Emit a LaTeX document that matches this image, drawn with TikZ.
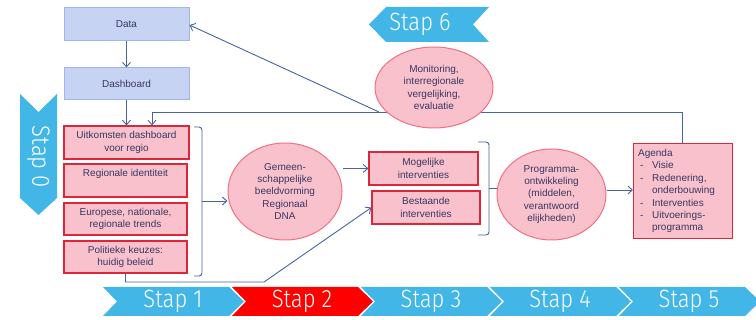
\documentclass[tikz,border=0pt]{standalone}
\usepackage{fontspec}
\setmainfont{Liberation Sans}
\newfontfamily\stapfont[FakeStretch=0.88]{Fira Sans Light}
\usetikzlibrary{arrows.meta,shapes.geometric}

\definecolor{txt}{RGB}{55,55,100}
\definecolor{bluefill}{RGB}{198,211,242}
\definecolor{blueline}{RGB}{160,182,232}
\definecolor{pinkfill}{RGB}{249,193,204}
\definecolor{redline}{RGB}{218,40,58}
\definecolor{ellline}{RGB}{240,112,130}
\definecolor{conn}{RGB}{72,100,160}
\definecolor{stapblue}{RGB}{66,182,230}
\definecolor{stapred}{RGB}{255,0,0}

\tikzset{
  every node/.style={text=txt, font=\fontsize{10}{12.4}\selectfont, inner sep=0pt, align=center},
  bluebox/.style={rectangle, draw=blueline, fill=bluefill, line width=1pt},
  pinkbox/.style={rectangle, draw=redline, fill=pinkfill, line width=1.2pt},
  pinkoval/.style={ellipse, draw=ellline, fill=pinkfill, line width=1pt},
  link/.style={draw=conn, line width=0.9pt},
  arrowlink/.style={link, -{Straight Barb[length=4.5pt,width=8pt]}},
  brace/.style={link, rounded corners=3pt},
  stapshape/.style={fill=stapblue, draw=none},
  staplabel/.style={text=white, font=\stapfont\fontsize{25}{25}\selectfont},
}

\begin{document}
\begin{tikzpicture}[x=1pt,y=-1pt]
\useasboundingbox (0,0) rectangle (756,320);

% --- step banners ---
\path[stapshape] (369,24.5) -- (386,7) -- (489,7) -- (473,24.5) -- (489,42) -- (386,42) -- cycle;
\node[staplabel] (stap6) at (420,24.5) {Stap 6};

\path[stapshape] (20,94) -- (38.5,112) -- (57,94) -- (57,198) -- (38.5,215) -- (20,198) -- cycle;
\node[staplabel, rotate=-90] (stap0) at (38.5,157) {Stap 0};

\begin{scope}
  \clip (0,0) rectangle (756,320);
  \foreach \i/\c in {0/stapblue,1/stapred,2/stapblue,3/stapblue,4/stapblue}{
    \pgfmathsetmacro{\s}{103+129*\i}
    \path[fill=\c] (\s,287) -- (\s+126,287) -- (\s+141,301.5) -- (\s+126,316)
      -- (\s,316) -- (\s+14,301.5) -- cycle;
  }
\end{scope}
\node[staplabel] (stap1) at (173,301) {Stap 1};
\node[staplabel] (stap2) at (302,301) {Stap 2};
\node[staplabel] (stap3) at (431,301) {Stap 3};
\node[staplabel] (stap4) at (560,301) {Stap 4};
\node[staplabel] (stap5) at (689,301) {Stap 5};

% --- feedback loop (drawn beneath the monitoring oval) ---
\node[pinkbox, minimum width=99pt, minimum height=95pt, align=left, anchor=north west] (agenda) at (633,143)
  {\begin{minipage}{90pt}\fontsize{10}{12.4}\selectfont
   Agenda\\
   \hspace*{2pt}\makebox[12pt][l]{-}Visie\\
   \hspace*{2pt}\makebox[12pt][l]{-}Redenering,\\
   \hspace*{14pt}onderbouwing\\
   \hspace*{2pt}\makebox[12pt][l]{-}Interventies\\
   \hspace*{2pt}\makebox[12pt][l]{-}Uitvoerings-\\
   \hspace*{14pt}programma\end{minipage}};

\node[bluebox, minimum width=125pt, minimum height=33pt] (data) at (126.5,24.5) {Data};
\node[bluebox, minimum width=125pt, minimum height=32pt] (dash) at (126.5,84) {Dashboard};
\node[pinkbox, minimum width=125pt, minimum height=33pt] (uit) at (126.5,142.5) {Uitkomsten dashboard\\voor regio};

\coordinate (loopcorner) at (682,112);
\coordinate (loopdrop) at (152,112);
\coordinate (monbranch) at (379,112);
\draw[arrowlink] (agenda.north -| loopcorner) -- (loopcorner) -- (loopdrop) -- (loopdrop |- uit.north);
\draw[arrowlink] (monbranch) -- (data.east |- 0,25);

\node[pinkoval, minimum width=118pt, minimum height=81pt] (mon) at (434,87.5)
  {Monitoring,\\interregionale\\vergelijking,\\evaluatie};

% --- left column ---
\node[pinkbox, minimum width=123pt, minimum height=33pt] (reg) at (125.5,180.5) {Regionale identiteit\\\strut};
\node[pinkbox, minimum width=123pt, minimum height=32pt] (eur) at (125.5,219) {Europese, nationale,\\regionale trends};
\node[pinkbox, minimum width=123pt, minimum height=32pt] (pol) at (125.5,257) {Politieke keuzes:\\huidig beleid};

\draw[arrowlink] (data) -- (dash);
\draw[arrowlink] (dash) -- (uit);

% --- middle ---
\node[pinkoval, minimum width=114pt, minimum height=97pt] (gem) at (285,191.5)
  {Gemeen-\\schappelijke\\beeldvorming\\Regionaal\\DNA};
\node[pinkbox, minimum width=109pt, minimum height=33pt] (mog) at (423.5,168.5) {Mogelijke\\interventies};
\node[pinkbox, minimum width=108pt, minimum height=33pt] (bes) at (426,207.5) {Bestaande\\interventies};
\node[pinkoval, minimum width=109pt, minimum height=91pt] (prog) at (551.5,194.5)
  {Programma-\\ontwikkeling\\(middelen,\\verantwoord\\elijkheden)};

% brace gathering the left column
\coordinate (b1top) at (194,127);
\coordinate (b1mid) at (202,201);
\coordinate (b1bot) at (194,276);
\draw[brace] (b1top) -| (b1mid) |- (b1bot);
\draw[arrowlink] (b1mid) -- (b1mid -| gem.west);

\draw[arrowlink] (gem.east |- mog) -- (mog.west);
\coordinate (polbend) at (264,282);
\draw[arrowlink] (pol.south) |- (polbend) -- (bes.west);

% brace gathering the interventions
\coordinate (b2top) at (478,142);
\coordinate (b2mid) at (489,188);
\coordinate (b2bot) at (478,235);
\draw[brace] (b2top) -| (b2mid) |- (b2bot);
\draw[link] (b2mid) -- (b2mid -| prog.west);

\draw[arrowlink] (prog.east |- 0,190) -- (agenda.west |- 0,190);
\end{tikzpicture}
\end{document}
